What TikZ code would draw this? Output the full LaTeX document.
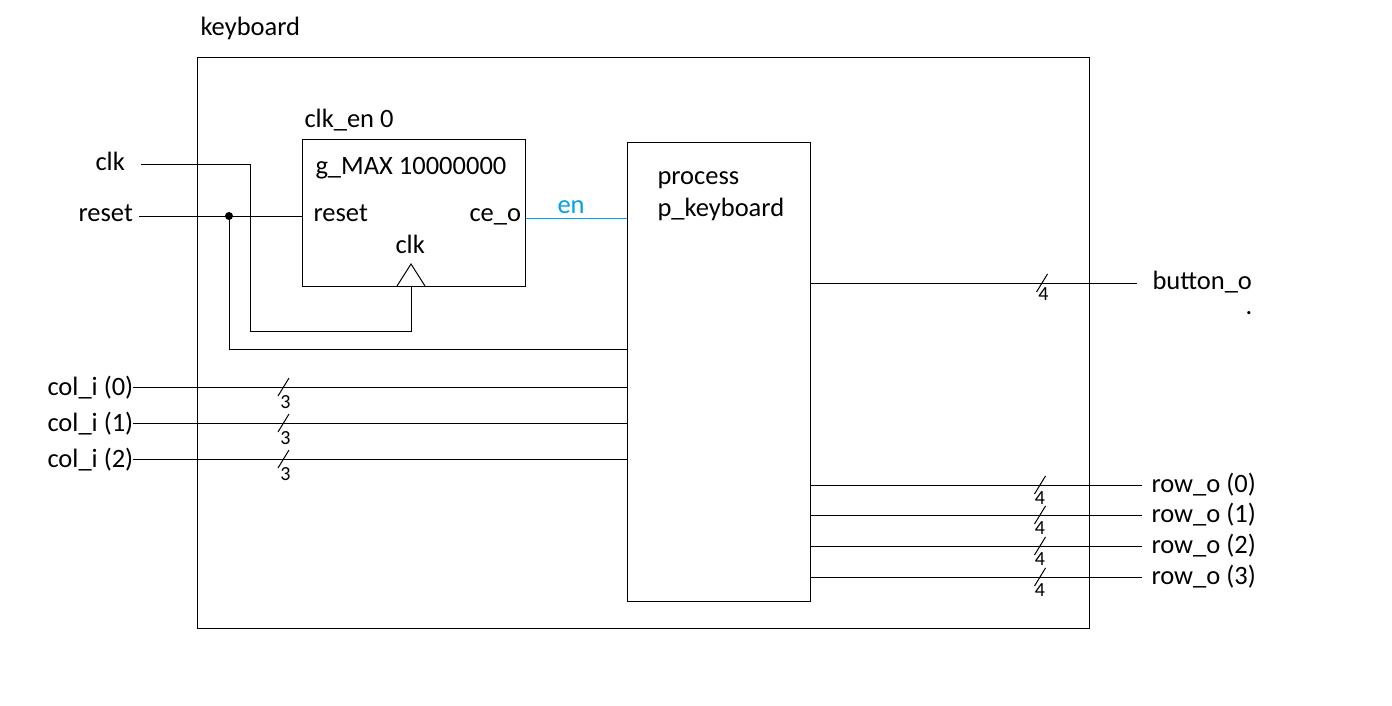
\documentclass[tikz,border=0pt]{standalone}
\usepackage{fontspec}
\setmainfont{Carlito}
\definecolor{enblue}{RGB}{0,162,232}

\begin{document}
\begin{tikzpicture}[x=1pt,y=-1pt,line width=1pt,
  lbl/.style={inner sep=0pt,anchor=base west,font=\fontsize{26.5}{31}\selectfont},
  wid/.style={inner sep=0pt,font=\fontsize{20}{23}\selectfont},
  block/.style={draw,inner sep=0pt,anchor=north west}]
\useasboundingbox (0,0) rectangle (1392,706);
\node [block,minimum width=892pt,minimum height=571pt] (kb) at (197,57) {};
\node [block,minimum width=223pt,minimum height=147pt] (clken) at (302,139) {};
\node [block,minimum width=183pt,minimum height=459pt] (proc) at (627,142) {};
\node [lbl] (kbname) at (200,36) {keyboard};
\node [lbl] (clkenname) at (304,128) {clk\_en 0};
\node [lbl] (gmax) at (315,174) {g\_MAX 10000000};
\node [lbl] (rstport) at (313,221) {reset};
\node [lbl] (ceport) at (469,221) {ce\_o};
\node [lbl] (clkport) at (395,253) {clk};
\node [lbl] (procname) at (657,184) {process};
\node [lbl] (procname2) at (657,216) {p\_keyboard};
\node [lbl] (clklbl) at (95,171) {clk};
\node [lbl] (rstlbl) at (78,221) {reset};
\coordinate (clkin) at (141,164);
\coordinate (rstin) at (139,216);
\coordinate (rstj) at (229,216);
\coordinate (clkpin) at (411,286);
\draw ([xshift=-14pt]clkpin) -- ([yshift=22pt]clkpin) -- ([xshift=14pt]clkpin);
\draw (clkin) -| (250,331) -| (clkpin);
\draw (rstin) -- (rstin -| clken.west);
\fill (rstj) circle (4pt);
\draw (rstj) |- (proc.west |- 0,349);
\draw [enblue] (clken.east |- 0,218) -- (proc.west |- 0,218);
\node [lbl,text=enblue] (enlbl) at (557,213) {en};
\foreach \i/\y in {0/387,1/423,2/459} {
  \coordinate (col\i) at (133,\y);
  \node [lbl] (collbl\i) at (47,\y+8) {col\_i (\i)};
  \draw (col\i) -- (proc.west |- col\i);
  \coordinate (colbus\i) at (283.5,\y);
  \draw ([xshift=-5.5pt,yshift=-9pt]colbus\i) -- ([xshift=5.5pt,yshift=9pt]colbus\i);
  \node [wid] (colw\i) at (285.5,\y+15) {3};
}
\draw (proc.east |- 0,283) -- (1137,283) coordinate (btn);
\node [lbl] (btnlbl) at (1152,289) {button\_o};
\node [lbl] (btndot) at (1245,314) {.};
\coordinate (btnbus) at (1042,283);
\draw ([xshift=-5.5pt,yshift=-9pt]btnbus) -- ([xshift=5.5pt,yshift=9pt]btnbus);
\node [wid] (btnw) at (1043.5,294.5) {4};
\foreach \i/\y in {0/485,1/515,2/546,3/577} {
  \draw (proc.east |- 0,\y) -- (1142,\y) coordinate (row\i);
  \node [lbl] (rowlbl\i) at (1151,\y+7) {row\_o (\i)};
  \coordinate (rowbus\i) at (1040,\y);
  \draw ([xshift=-5.5pt,yshift=-9pt]rowbus\i) -- ([xshift=5.5pt,yshift=9pt]rowbus\i);
  \node [wid] (roww\i) at (1040,\y+13) {4};
}
\end{tikzpicture}
\end{document}
